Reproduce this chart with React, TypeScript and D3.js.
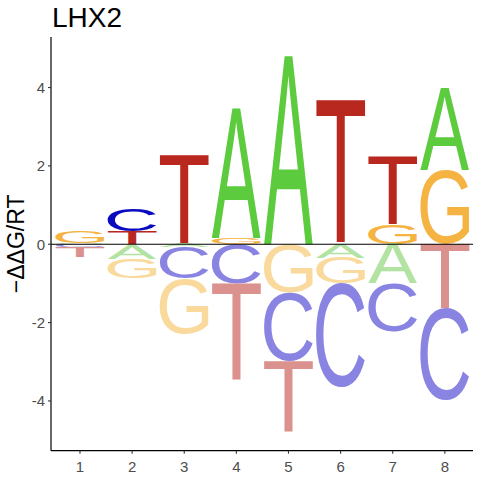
import * as d3 from 'd3'
import {useMemo} from 'react'

// energy logo for LHX2, one value per base per position (signed -ddG/RT)
const positions = [1, 2, 3, 4, 5, 6, 7, 8]
const bases = ['A', 'C', 'G', 'T']
const valuesA = [0.03, -0.37, -0.08, 3.31, 4.81, -0.34, -1.0, 2.1]
const valuesC = [-0.06, 0.56, -0.8, -1.0, -1.74, -2.66, -1.23, -2.35]
const valuesG = [0.3, -0.51, -1.4, 0.17, -1.24, -0.66, 0.5, 1.89]
const valuesT = [-0.27, 0.33, 2.3, -2.48, -1.83, 3.68, 1.76, -1.64]
const yTicks = [-4, -2, 0, 2, 4]
const title = 'LHX2'
const yLabel = '\u2212\u0394\u0394G/RT'

const posColors: Record<string, string> = {A: '#5ccb3d', C: '#0a0abf', G: '#f5b342', T: '#b8281f'}
const negColors: Record<string, string> = {A: '#b3e3a3', C: '#8983e2', G: '#f9da9c', T: '#db918d'}

const FONT = 'Liberation Sans, Arial, sans-serif'

function glyphBox(letter: string) {
  const ctx = document.createElement('canvas').getContext('2d')!
  ctx.font = `100px ${FONT}`
  const m = ctx.measureText(letter)
  return {
    left: m.actualBoundingBoxLeft,
    right: m.actualBoundingBoxRight,
    ascent: m.actualBoundingBoxAscent,
    descent: m.actualBoundingBoxDescent,
  }
}

export default function App() {
  const width = 480
  const height = 480
  const panel = {left: 51, right: 473, top: 37, bottom: 450.7}

  const x = d3.scaleLinear().domain([0.444, 8.54]).range([panel.left, panel.right])
  const y = d3.scaleLinear().domain([-5.27, 5.29]).range([panel.bottom, panel.top])
  const colW = (x(2) - x(1)) * 0.94

  const boxes = useMemo(() => {
    const b: Record<string, ReturnType<typeof glyphBox>> = {}
    for (const l of bases) b[l] = glyphBox(l)
    return b
  }, [])

  const series: Record<string, number[]> = {A: valuesA, C: valuesC, G: valuesG, T: valuesT}

  const glyphs: {key: string; letter: string; x0: number; y0: number; w: number; h: number; color: string}[] = []
  positions.forEach((p, i) => {
    const entries = bases.map(b => ({b, v: series[b][i]}))
    const pos = entries.filter(e => e.v > 0).sort((a, c) => a.v - c.v)
    const neg = entries.filter(e => e.v < 0).sort((a, c) => c.v - a.v)
    let acc = 0
    for (const e of pos) {
      const yb = y(acc)
      const yt = y(acc + e.v)
      glyphs.push({key: `${p}${e.b}`, letter: e.b, x0: x(p) - colW / 2, y0: yt, w: colW, h: yb - yt, color: posColors[e.b]})
      acc += e.v
    }
    acc = 0
    for (const e of neg) {
      const yt = y(acc)
      const yb = y(acc + e.v)
      glyphs.push({key: `${p}${e.b}`, letter: e.b, x0: x(p) - colW / 2, y0: yt, w: colW, h: yb - yt, color: negColors[e.b]})
      acc += e.v
    }
  })

  return (
    <svg width={width} height={height} style={{position: 'absolute', left: 0, top: 0, background: '#fff'}}>
      <rect width={width} height={height} fill="#fff" />
      {glyphs.map(g => {
        const bx = boxes[g.letter]
        const sx = g.w / (bx.left + bx.right)
        const sy = g.h / (bx.ascent + bx.descent)
        return (
          <text
            key={g.key}
            fontFamily={FONT}
            fontSize={100}
            fill={g.color}
            transform={`translate(${g.x0},${g.y0}) scale(${sx},${sy}) translate(${bx.left},${bx.ascent})`}
          >
            {g.letter}
          </text>
        )
      })}
      <line x1={panel.left} x2={panel.right} y1={y(0)} y2={y(0)} stroke="#000" strokeWidth={1.1} />
      <line x1={panel.left} x2={panel.left} y1={panel.top} y2={panel.bottom} stroke="#000" strokeWidth={1.2} />
      <line x1={panel.left} x2={panel.right} y1={panel.bottom} y2={panel.bottom} stroke="#000" strokeWidth={1.2} />
      {yTicks.map(t => (
        <g key={t} transform={`translate(0,${y(t)})`}>
          <line x1={panel.left - 3} x2={panel.left} stroke="#333" strokeWidth={1.1} />
          <text x={panel.left - 6} dy="0.36em" textAnchor="end" fontFamily={FONT} fontSize={15} fill="#4d4d4d">
            {t < 0 ? `-${Math.abs(t)}` : t}
          </text>
        </g>
      ))}
      {positions.map(p => (
        <g key={p} transform={`translate(${x(p)},0)`}>
          <line y1={panel.bottom} y2={panel.bottom + 3} stroke="#333" strokeWidth={1.1} />
          <text y={panel.bottom + 21} textAnchor="middle" fontFamily={FONT} fontSize={15} fill="#4d4d4d">
            {p}
          </text>
        </g>
      ))}
      <text x={52} y={27.3} fontFamily={FONT} fontSize={28} fill="#000">
        {title}
      </text>
      <text
        transform={`translate(24,${(panel.top + panel.bottom) / 2}) rotate(-90)`}
        textAnchor="middle"
        fontFamily={FONT}
        fontSize={23}
        fill="#000"
      >
        {yLabel}
      </text>
    </svg>
  )
}
